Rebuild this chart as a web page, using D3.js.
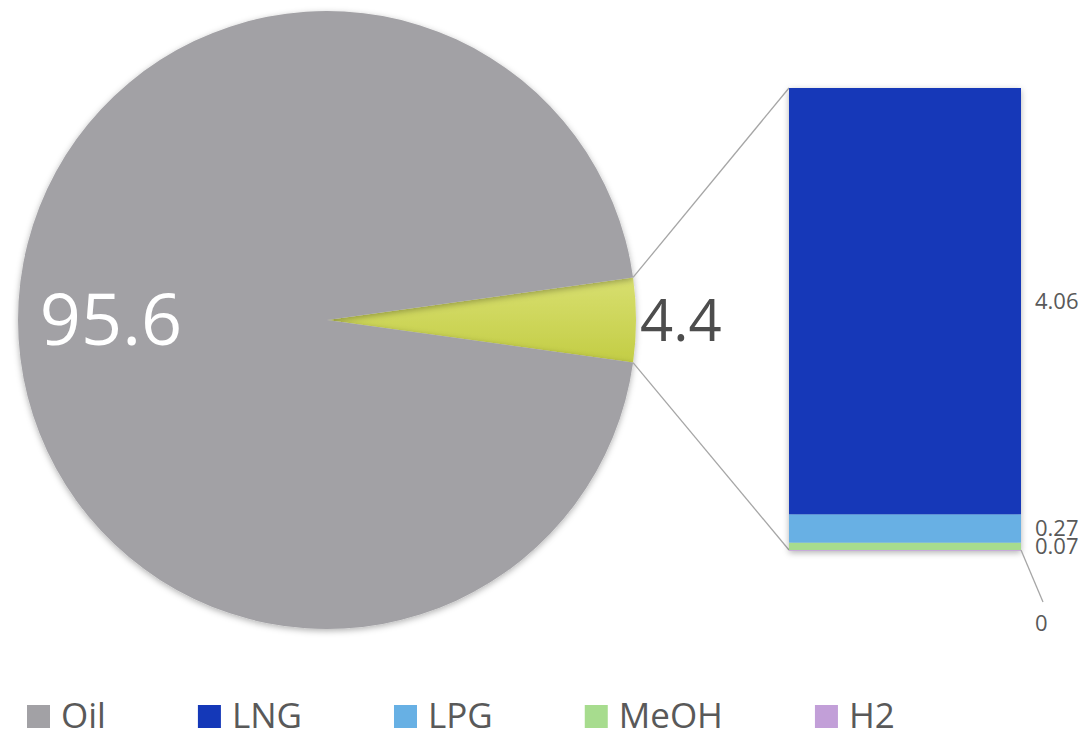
<!DOCTYPE html>
<html>
<head>
<meta charset="utf-8">
<script src="https://cdn.jsdelivr.net/npm/d3@7"></script>
<style>
body { margin:0; background:#fff; }
text { font-family:"Open Sans", "Noto Sans", sans-serif; }
</style>
</head>
<body>
<svg id="chart"></svg>
<script>
// pie: the big slice and the "other" slice that is split out in the bar
var pieNames = ["Other","Oil"];
var pieValues = [4.4, 95.6];

// the stacked bar (bottom to top)
var barNames = ["H2","MeOH","LPG","LNG"];
var barValues = [0, 0.07, 0.27, 4.06];

var legendNames = ["Oil","LNG","LPG","MeOH","H2"];
var colors = {Oil:"#a2a1a5", LNG:"#1438b8", LPG:"#67b0e4", MeOH:"#a7dc8e", H2:"#c29fd8", Other:"#d3dc62"};

var initGraph = function(target)
{
    var screen = {width:1085, height:733};

    var svg = d3.select(target)
        .attr("width",screen.width)
        .attr("height",screen.height)

    var defs = svg.append("defs");
    var shadow = defs.append("filter")
        .attr("id","shadow")
        .attr("x","-10%").attr("y","-10%")
        .attr("width","120%").attr("height","120%")
    shadow.append("feDropShadow")
        .attr("dx",0).attr("dy",2)
        .attr("stdDeviation",3)
        .attr("flood-color","#000")
        .attr("flood-opacity",0.3)

    var grad = defs.append("linearGradient")
        .attr("id","otherGrad")
        .attr("x1",0).attr("y1",0).attr("x2",0).attr("y2",1)
    grad.append("stop").attr("offset","0%").attr("stop-color","#d8df70")
    grad.append("stop").attr("offset","100%").attr("stop-color","#c3cd45")

    var pie = {cx:327, cy:320, r:309};
    drawPie(svg,pie);

    var bar = {x:789, width:232, top:88, bottom:550};
    var yScale = d3.scaleLinear()
        .domain([0,d3.sum(barValues)])
        .range([bar.bottom,bar.top])

    drawConnectors(svg,pie,bar);
    drawBar(svg,bar,yScale);
    drawLegend(svg);
}

var drawPie = function(svg,pie)
{
    var half = pieValues[0]/d3.sum(pieValues)*Math.PI;
    var layout = d3.pie()
        .sort(null)
        .startAngle(Math.PI/2-half)
        .endAngle(Math.PI/2-half+2*Math.PI);
    var arcs = layout(pieValues);
    var arc = d3.arc().innerRadius(0).outerRadius(pie.r);

    var g = svg.append("g")
        .attr("transform","translate("+pie.cx+","+pie.cy+")")

    g.selectAll("path")
        .data(arcs)
        .enter()
        .append("path")
        .attr("d",arc)
        .attr("fill",function(d,i)
        {
            return i==0 ? "url(#otherGrad)" : colors[pieNames[i]];
        })
        .attr("filter","url(#shadow)")

    // oil label inside, other label outside
    g.append("text")
        .attr("x",-216)
        .attr("y",25)
        .attr("text-anchor","middle")
        .attr("fill","#fff")
        .attr("font-size",72)
        .text(pieValues[1])

    g.append("text")
        .attr("x",pie.r+4)
        .attr("y",21)
        .attr("fill","#4d4d4d")
        .attr("font-size",58)
        .text(pieValues[0])

    pie.arcs = arcs;
}

var drawConnectors = function(svg,pie,bar)
{
    var a0 = pie.arcs[0].startAngle;
    var a1 = pie.arcs[0].endAngle;
    var pt = function(a)
    {
        return [pie.cx+pie.r*Math.sin(a), pie.cy-pie.r*Math.cos(a)];
    }
    var p0 = pt(a0), p1 = pt(a1);
    svg.append("line")
        .attr("x1",p0[0]).attr("y1",p0[1])
        .attr("x2",bar.x).attr("y2",bar.top)
        .attr("stroke","#a6a6a6").attr("stroke-width",1.3)
    svg.append("line")
        .attr("x1",p1[0]).attr("y1",p1[1])
        .attr("x2",bar.x).attr("y2",bar.bottom)
        .attr("stroke","#a6a6a6").attr("stroke-width",1.3)
}

var drawBar = function(svg,bar,yScale)
{
    var stack = [];
    var sum = 0;
    barValues.forEach(function(v,i)
    {
        stack.push({name:barNames[i], value:v, y0:sum, y1:sum+v});
        sum += v;
    })

    var g = svg.append("g").attr("filter","url(#shadow)");
    g.selectAll("rect")
        .data(stack)
        .enter()
        .append("rect")
        .attr("x",bar.x)
        .attr("width",bar.width)
        .attr("y",function(d){ return yScale(d.y1); })
        .attr("height",function(d){ return Math.max(yScale(d.y0)-yScale(d.y1),0.8); })
        .attr("fill",function(d){ return colors[d.name]; })

    var labels = svg.append("g");
    stack.forEach(function(d)
    {
        var y = (yScale(d.y0)+yScale(d.y1))/2;
        if (d.value==0)
        {
            // zero slice gets a leader line
            labels.append("line")
                .attr("x1",bar.x+bar.width).attr("y1",yScale(d.y0))
                .attr("x2",bar.x+bar.width+22).attr("y2",yScale(d.y0)+52)
                .attr("stroke","#a6a6a6").attr("stroke-width",1.3)
            y = yScale(d.y0)+73;
        }
        labels.append("text")
            .attr("x",bar.x+bar.width+14)
            .attr("y",y)
            .attr("dy","0.36em")
            .attr("fill","#595959")
            .attr("font-size",22)
            .text(d.value)
    })
}

var drawLegend = function(svg)
{
    var g = svg.append("g");
    var x = 27;
    legendNames.forEach(function(name)
    {
        g.append("rect")
            .attr("x",x).attr("y",705)
            .attr("width",23).attr("height",23)
            .attr("fill",colors[name])
        var t = g.append("text")
            .attr("x",x+34).attr("y",728)
            .attr("fill","#595959")
            .attr("font-size",35)
            .text(name)
        x += 34+t.node().getComputedTextLength()+92;
    })
}

initGraph("#chart");
</script>
</body>
</html>
